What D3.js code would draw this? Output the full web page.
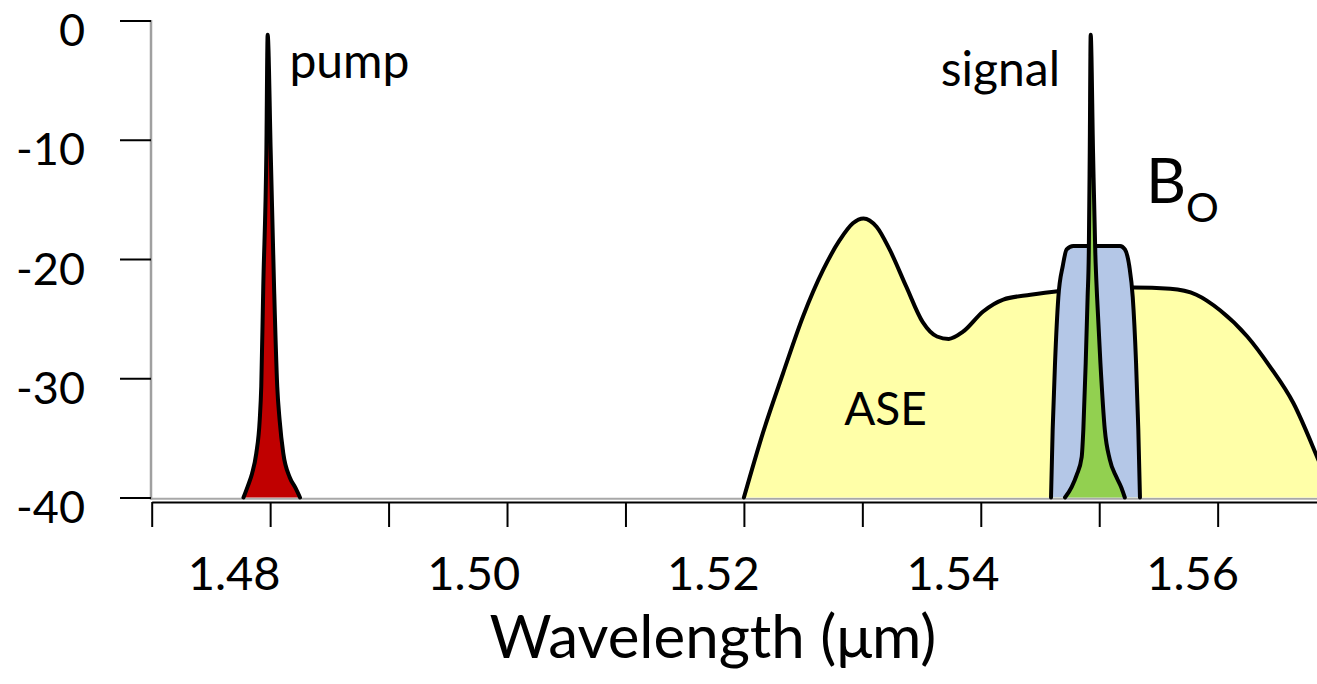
<!DOCTYPE html>
<html>
<head>
<meta charset="utf-8">
<script src="https://cdn.jsdelivr.net/npm/d3@7"></script>
<style>
  html, body { margin: 0; padding: 0; background: #fff; }
  svg { display: block; font-family: Lato, "Open Sans", sans-serif; }
</style>
</head>
<body>
<svg id="chart" width="1317" height="684"></svg>
<script>
// Spectral features: [wavelength (µm), relative power (dB)]
const pumpSpectrum = [
  [1.47775, -40.0], [1.47813, -39.0], [1.47847, -38.0], [1.47883, -36.3],
  [1.47912, -33.5], [1.47925, -30.7], [1.47942, -22.3], [1.47968, -11.1],
  [1.47979, -1.2],
  [1.48005, -11.1], [1.48033, -22.3], [1.48060, -30.7], [1.48080, -33.5],
  [1.48111, -36.3], [1.48165, -38.3], [1.48214, -39.2], [1.48252, -40.0]
];

const aseSpectrum = [
  [1.5200, -40.0], [1.5216, -34.6], [1.5233, -29.6], [1.5250, -24.8],
  [1.5267, -20.9], [1.5281, -18.4], [1.5292, -17.0], [1.5301, -16.6],
  [1.5312, -17.3], [1.5323, -19.2], [1.5337, -22.3], [1.5351, -25.3],
  [1.5363, -26.5], [1.5373, -26.7], [1.5385, -26.1], [1.5402, -24.4],
  [1.5419, -23.4], [1.5442, -23.0], [1.5465, -22.7], [1.5496, -22.5],
  [1.5529, -22.4], [1.5560, -22.5], [1.5582, -23.0], [1.5602, -24.3],
  [1.5625, -26.5], [1.5644, -29.0], [1.5664, -32.1], [1.5684, -36.6],
  [1.5698, -40.0]
];

const filterPassband = [
  [1.54593, -40.0], [1.54607, -34.3], [1.54627, -28.7], [1.54655, -23.2],
  [1.54692, -20.6], [1.54725, -19.2], [1.54781, -18.9],
  [1.55176, -18.9], [1.55217, -19.2], [1.55254, -20.6], [1.55283, -23.2],
  [1.55311, -28.7], [1.55330, -34.3], [1.55344, -40.0]
];

const signalSpectrum = [
  [1.54711, -40.0], [1.54768, -39.1], [1.54810, -38.1], [1.54852, -36.6],
  [1.54866, -34.3], [1.54886, -28.7], [1.54902, -23.2], [1.54912, -19.5],
  [1.54920, -11.1], [1.54928, -1.2],
  [1.54948, -11.1], [1.54967, -19.5], [1.54982, -23.2], [1.55010, -28.7],
  [1.55047, -34.3], [1.55089, -36.8], [1.55146, -38.3], [1.55188, -39.2],
  [1.55216, -40.0]
];

// Axis ticks and labels
const yTicks = [0, -10, -20, -30, -40];
const xTicks = [1.47, 1.48, 1.49, 1.50, 1.51, 1.52, 1.53, 1.54, 1.55, 1.56];
const xTickLabels = ["1.48", "1.50", "1.52", "1.54", "1.56"];
const xTitle = "Wavelength (μm)";

// Text annotations placed in data coordinates
const annotations = [
  { text: "pump",   at: [1.48163, -4.8],  anchor: "start",  size: 48 },
  { text: "signal", at: [1.54669, -5.5],  anchor: "end",    size: 48 },
  { text: "ASE",    at: [1.53196, -33.9], anchor: "middle", size: 46 }
];

const W = 1317, H = 684;
const svg = d3.select("#chart");

const x = d3.scaleLinear().domain([1.47, 1.57]).range([151.7, 1336.1]);
const y = d3.scaleLinear().domain([0, -40]).range([20.5, 497.5]);
const floor = -40;

// Light grey rules: vertical power axis and the -40 dB floor
svg.append("line")
  .attr("x1", 150).attr("x2", W)
  .attr("y1", y(floor) + 1.2).attr("y2", y(floor) + 1.2)
  .attr("stroke", "#a8a8a8").attr("stroke-width", 2);
svg.append("line")
  .attr("x1", 151).attr("x2", 151)
  .attr("y1", y(0) - 0.5).attr("y2", y(floor) + 2)
  .attr("stroke", "#a0a0a0").attr("stroke-width", 2.5);

// Y axis ticks and labels
const gy = svg.append("g")
  .attr("transform", "translate(151,0)")
  .call(d3.axisLeft(y).tickValues(yTicks).tickSize(31).tickPadding(35)
    .tickFormat(d => String(d)));
gy.select(".domain").remove();
gy.selectAll(".tick line").attr("stroke", "#000").attr("stroke-width", 2);
gy.selectAll(".tick text")
  .attr("font-family", "Lato, 'Open Sans', sans-serif")
  .attr("font-size", 45)
  .attr("fill", "#000")
  .attr("dy", 25);

// X axis line and ticks
const gx = svg.append("g")
  .attr("transform", "translate(0,502)")
  .call(d3.axisBottom(x).tickValues(xTicks).tickSize(25).tickSizeOuter(0).tickFormat(""));
gx.select(".domain").attr("stroke", "#000").attr("stroke-width", 2);
gx.selectAll(".tick line").attr("stroke", "#000").attr("stroke-width", 2);

// X tick labels sit slightly left of their ticks
const labelX = d3.scaleLinear()
  .domain([+xTickLabels[0], +xTickLabels[xTickLabels.length - 1]])
  .range([x(+xTickLabels[0]) - 36, x(+xTickLabels[xTickLabels.length - 1]) - 25]);
svg.append("g").selectAll("text")
  .data(xTickLabels)
  .join("text")
  .attr("x", d => labelX(+d))
  .attr("y", 590)
  .attr("text-anchor", "middle")
  .attr("font-size", 47)
  .attr("fill", "#000")
  .text(d => d);

// Axis title
svg.append("text")
  .attr("x", 713).attr("y", 658)
  .attr("text-anchor", "middle")
  .attr("font-size", 60)
  .attr("fill", "#000")
  .text(xTitle);

// Spectral shapes
const area = d3.area()
  .x(d => x(d[0]))
  .y0(y(floor))
  .y1(d => y(d[1]))
  .curve(d3.curveMonotoneX);
const line = d3.line()
  .x(d => x(d[0]))
  .y(d => y(d[1]))
  .curve(d3.curveMonotoneX);

const layers = [
  { data: aseSpectrum,    fill: "#FFFFA8" },
  { data: filterPassband, fill: "#B4C7E7" },
  { data: signalSpectrum, fill: "#92D050" },
  { data: pumpSpectrum,   fill: "#C00000" }
];

const plot = svg.append("g");
layers.forEach(l => {
  plot.append("path")
    .attr("d", area(l.data))
    .attr("fill", l.fill);
  plot.append("path")
    .attr("d", line(l.data))
    .attr("fill", "none")
    .attr("stroke", "#000")
    .attr("stroke-width", 4)
    .attr("stroke-linejoin", "round")
    .attr("stroke-linecap", "round");
});

// Annotations
annotations.forEach(a => {
  svg.append("text")
    .attr("x", x(a.at[0]))
    .attr("y", y(a.at[1]))
    .attr("text-anchor", a.anchor)
    .attr("font-size", a.size)
    .attr("fill", "#000")
    .text(a.text);
});

// Optical bandwidth label B with subscript O
const bo = svg.append("text")
  .attr("x", x(1.55395))
  .attr("y", y(-15.3))
  .attr("fill", "#000");
bo.append("tspan").attr("font-size", 62).text("B");
bo.append("tspan").attr("font-size", 41).attr("dy", 19).text("O");
</script>
</body>
</html>
